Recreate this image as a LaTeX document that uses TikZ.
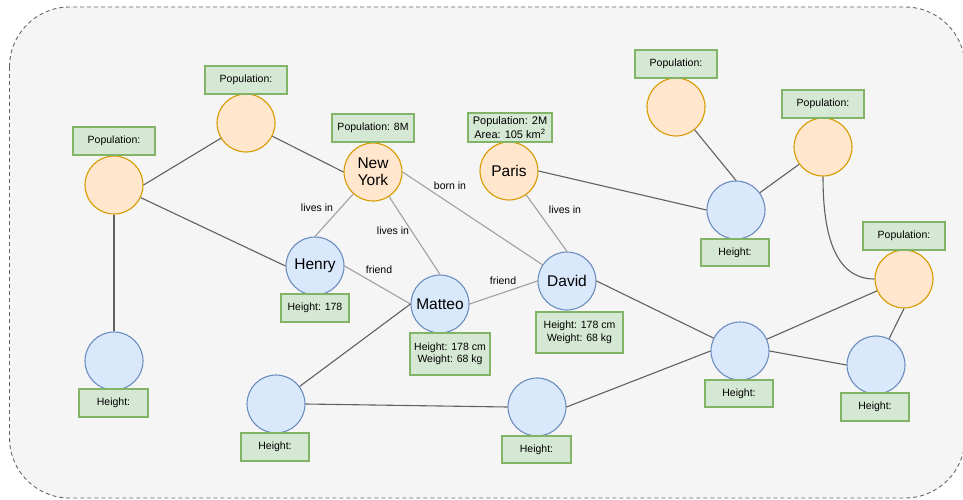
\documentclass[tikz,border=0pt]{standalone}
\usepackage{fontspec}
\setmainfont{Liberation Sans}
\definecolor{cityfill}{HTML}{FFE6CC}
\definecolor{cityline}{HTML}{D79B00}
\definecolor{personfill}{HTML}{DAE8FC}
\definecolor{personline}{HTML}{6C8EBF}
\definecolor{propfill}{HTML}{D5E8D4}
\definecolor{propline}{HTML}{82B366}
\definecolor{framefill}{HTML}{F5F5F5}
\definecolor{frameline}{HTML}{666666}
\definecolor{reldark}{HTML}{606060}
\definecolor{rellight}{HTML}{A0A0A0}
\begin{document}
\begin{tikzpicture}[x=1pt,y=-1pt,
  city/.style={circle, draw=cityline, fill=cityfill, line width=1.1pt,
    minimum size=58pt, inner sep=0pt, align=center,
    font=\fontsize{15.5}{17}\selectfont},
  person/.style={circle, draw=personline, fill=personfill, line width=1.1pt,
    minimum size=58pt, inner sep=0pt, align=center,
    font=\fontsize{15.5}{17}\selectfont},
  prop/.style={rectangle, draw=propline, fill=propfill, line width=1.1pt,
    inner sep=0pt, minimum height=28pt, minimum width=82pt, align=center,
    font=\fontsize{10.5}{12.5}\selectfont},
  rel/.style={draw=reldark, line width=1.1pt},
  tie/.style={draw=rellight, line width=1.1pt},
  tag/.style={inner sep=1pt, font=\fontsize{10.5}{12}\selectfont}
]
\useasboundingbox (0,0) rectangle (963,500);
\clip (0,0) rectangle (963,500);

% container
\draw[draw=frameline, fill=framefill, line width=0.9pt,
  dash pattern=on 4pt off 3pt, rounded corners=60pt]
  (9.5,7) rectangle (965,498);

% cities
\node[city] (popA) at (114,185) {};
\node[city] (popB) at (246,123) {};
\node[city] (ny) at (373,172) {New\\York};
\node[city] (paris) at (509,171) {Paris};
\node[city] (popC) at (676,107) {};
\node[city] (popD) at (823,147) {};
\node[city] (popF) at (904,279) {};

% people
\node[person] (henry) at (315,266) {Henry};
\node[person] (matteo) at (440,304) {Matteo};
\node[person] (david) at (567,281) {David};
\node[person] (pE) at (736,210) {};
\node[person] (pG) at (740,351) {};
\node[person] (pH) at (876,365) {};
\node[person] (pI) at (537,407) {};
\node[person] (pJ) at (276,404) {};
\node[person] (pK) at (114,361) {};

% relations
\draw[rel] (popA.east) -- (popB);
\draw[rel] (popB) -- (ny.west);
\draw[rel] (popA) -- (henry.west);
\draw[rel] (popA.south) -- (pK.north);
\draw[tie] (ny) -- (henry.north);
\draw[tie] (ny) -- (matteo.north);
\draw[tie] (ny.east) -- (david);
\draw[tie] (paris) -- (david.north);
\draw[rel] (paris.east) -- (pE.west);
\draw[rel] (popC) -- (pE.north);
\draw[rel] (popD) -- (pE);
\draw[rel] (popD.south) to[out=-90,in=180] (popF.west);
\draw[tie] (henry.east) -- (matteo.west);
\draw[tie] (matteo.east) -- (david.west);
\draw[rel] (matteo.west) -- (pJ);
\draw[rel] (pJ.east) -- (pI.west);
\draw[rel] (pI.east) -- (pG.west);
\draw[rel] (david.east) -- (pG);
\draw[rel] (pG) -- (popF);
\draw[rel] (pG.east) -- (pH.west);
\draw[rel] (pH) -- (popF.south);

% relation labels
\node[tag] (l1) at (317,208) {lives in};
\node[tag] (l2) at (393,231) {lives in};
\node[tag] (l3) at (450,186) {born in};
\node[tag] (l4) at (565,210) {lives in};
\node[tag] (l5) at (379,270) {friend};
\node[tag] (l6) at (503,281) {friend};

% properties
\node[prop] (qA) at (114,141) {Population:};
\node[prop] (qB) at (246,80) {Population:};
\node[prop] (qNY) at (373,128) {Population: 8M};
\node[prop, minimum width=84pt, minimum height=29pt,
  font=\fontsize{11}{13.5}\selectfont] (qP) at (510,127.5)
  {Population: 2M\\Area: 105 km\textsuperscript{2}};
\node[prop] (qC) at (676,64) {Population:};
\node[prop] (qD) at (823,104) {Population:};
\node[prop] (qF) at (904,236) {Population:};
\node[prop, minimum width=68pt, minimum height=27pt] (hE) at (735,252.5) {Height:};
\node[prop, minimum width=68pt] (hHenry) at (315,308) {Height: 178};
\node[prop, minimum width=80pt, minimum height=42pt] (hMatteo) at (450,354)
  {Height: 178 cm\\Weight: 68 kg};
\node[prop, minimum width=87pt, minimum height=41pt] (hDavid) at (579.5,332.5)
  {Height: 178 cm\\Weight: 68 kg};
\node[prop, minimum width=68pt, minimum height=27pt] (hG) at (739,393.5) {Height:};
\node[prop, minimum width=68pt] (hH) at (875,407) {Height:};
\node[prop, minimum width=69pt, minimum height=27pt] (hI) at (536.5,449.5) {Height:};
\node[prop, minimum width=68pt] (hJ) at (275,447) {Height:};
\node[prop, minimum width=69pt] (hK) at (113.5,403) {Height:};
\end{tikzpicture}
\end{document}
